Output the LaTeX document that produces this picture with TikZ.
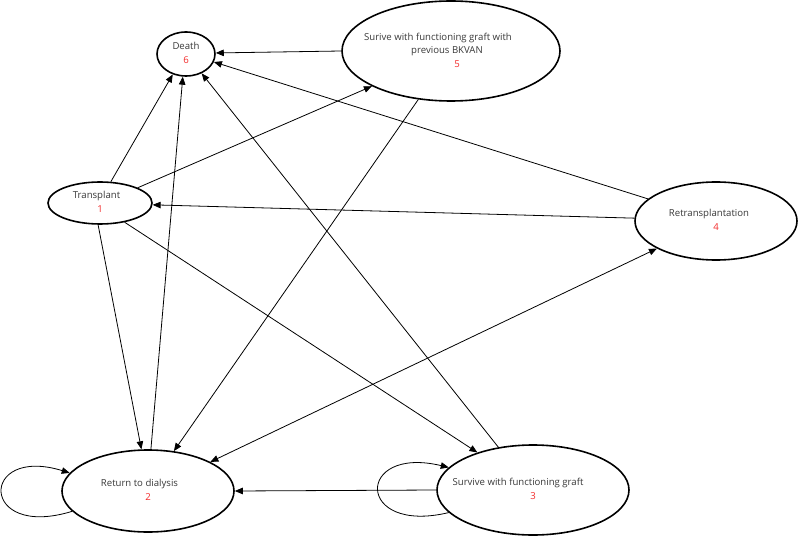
\documentclass[tikz,border=0pt]{standalone}
\usepackage{fontspec}
\setmainfont{Open Sans}
\usepackage{xcolor}
\usetikzlibrary{arrows.meta,shapes.geometric}
\definecolor{Ink}{HTML}{383838}
\definecolor{NumRed}{HTML}{F22A2A}
% label over its red number, kept out of the ellipse size
\newcommand{\statelbl}[2]{\makebox[0pt]{\begin{tabular}{@{}c@{}}#1\\\textcolor{NumRed}{#2}\end{tabular}}}

\begin{document}
\begin{tikzpicture}[x=1pt,y=-1pt,
  state/.style={ellipse,draw=black,line width=1.6pt,inner sep=0pt,text=Ink,font=\fontsize{9.6}{13.5}\selectfont},
  trans/.style={-{Triangle[length=8pt,width=6.5pt]},line width=0.8pt},
  both/.style={{Triangle[length=8pt,width=6.5pt]}-{Triangle[length=8pt,width=6.5pt]},line width=0.8pt}
]
\useasboundingbox (0,0) rectangle (800,537);
\node[state,minimum width=58pt,minimum height=44pt] (death) at (186,54) {\statelbl{Death}{6}};
\node[state,minimum width=218pt,minimum height=100pt] (bkvan) at (451,51)
  {\statelbl{Surive with functioning graft with\hspace*{26pt}\\previous BKVAN\hspace*{8pt}}{\hspace*{12pt}5}};
\node[state,minimum width=104pt,minimum height=42pt] (tx) at (100,203) {\statelbl{Transplant\hspace*{7pt}}{1}};
\node[state,minimum width=162pt,minimum height=78pt] (retx) at (716,221) {\statelbl{Retransplantation\hspace*{14pt}}{4}};
\node[state,minimum width=172pt,minimum height=82pt] (dial) at (148,491) {\statelbl{Return to dialysis\hspace*{17pt}}{2}};
\node[state,minimum width=192pt,minimum height=90pt] (graft) at (533,490) {\statelbl{Survive with functioning graft\hspace*{30pt}}{3}};
% into death
\draw[trans] (bkvan.180) -- (death.2);
\draw[trans] (retx.162) -- (death.-16);
\draw[trans] (tx.63) -- (death.-123);
\draw[trans] (dial.86) -- (death.-98);
\draw[trans] (graft.129) -- (death.-51);
% the rest
\draw[trans] (tx.22) -- (bkvan.-156);
\draw[trans] (bkvan.-124) -- (dial.57);
\draw[trans] (retx.178) -- (tx.-2);
\draw[trans] (tx.-38) -- (graft.146);
\draw[trans] (tx.-95) -- (dial.99);
\draw[both] (dial.25) -- (retx.-155);
\draw[trans] (graft.180) -- (dial.0);
% self loops
\draw[trans] (dial.-165) .. controls (-21,540) and (-21,445) .. (dial.167);
\draw[trans] (graft.-165) .. controls (355,535) and (355,445) .. (graft.165);
\end{tikzpicture}
\end{document}
